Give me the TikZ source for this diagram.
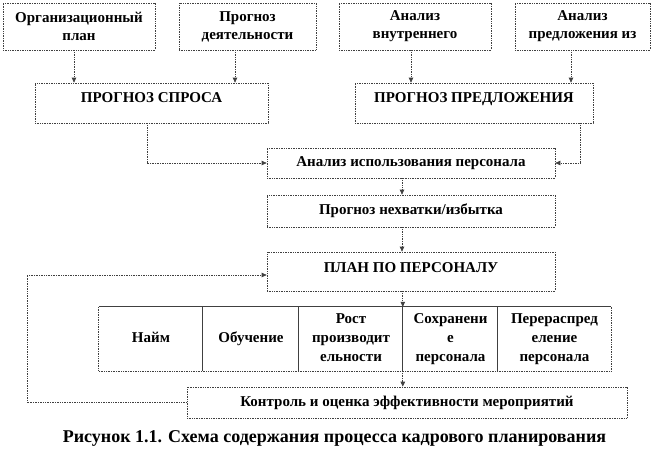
\documentclass[tikz,border=0pt]{standalone}
\usepackage{fontspec}
\setmainfont{Liberation Serif}
\usetikzlibrary{arrows.meta,calc}
\tikzset{
  dline/.style={draw=black!75, line width=0.7pt, densely dotted},
  box/.style={dline, fill=white, inner sep=0pt, align=center,
    font=\bfseries\fontsize{15}{18}\selectfont},
  cell/.style={inner sep=0pt, align=center, minimum height=64, 
    font=\bfseries\fontsize{15}{19}\selectfont},
  oneline/.style={text height=10.5pt, text depth=3.5pt},
  sline/.style={draw=black!75, line width=0.7pt},
  arr/.style={dline, -{Triangle[length=5pt,width=4.5pt]}},
}
\begin{document}
\begin{tikzpicture}[x=1pt,y=-1pt]
\useasboundingbox[fill=white] (0,0) rectangle (654,453);
% top row
\node[box, minimum width=152, minimum height=47] (b1) at (79,26.5) {Организационный\\план};
\node[box, minimum width=137, minimum height=47] (b2) at (247.5,26.5) {Прогноз\\деятельности};
\node[box, minimum width=152, minimum height=47] (b3) at (415,26.5) {Анализ\\внутреннего};
\node[box, minimum width=135, minimum height=47] (b4) at (582.5,26.5) {Анализ\\предложения из};
% forecasts
\node[box, minimum width=233, minimum height=40, text height=10.5pt, text depth=11pt] (dem) at (151.5,103) {ПРОГНОЗ СПРОСА};
\node[box, minimum width=238, minimum height=40, text height=10.5pt, text depth=11pt] (sup) at (474,103) {ПРОГНОЗ ПРЕДЛОЖЕНИЯ};
% central column
\node[box, oneline, minimum width=288, minimum height=30] (ana) at (411,163) {Анализ использования персонала};
\node[box, oneline, minimum width=288, minimum height=32] (nex) at (411,211) {Прогноз нехватки/избытка};
\node[box, minimum width=288, minimum height=39, text height=10.5pt, text depth=9pt] (plan) at (411,271.5) {ПЛАН ПО ПЕРСОНАЛУ};
% table
\node[cell, oneline, minimum width=104] (c1) at (151,339) {Найм};
\node[cell, oneline, minimum width=96] (c2) at (251,339) {Обучение};
\node[cell, minimum width=104] (c3) at (351,339) {\strut Рост\\\strut производит\\\strut ельности};
\node[cell, minimum width=95] (c4) at (450.5,339) {\strut Сохранени\\\strut е\\\strut персонала};
\node[cell, minimum width=113] (c5) at (554.5,339) {\strut Перераспред\\\strut еление\\\strut персонала};
\draw[sline] (c1.north west) -- (c5.north east);
\draw[dline] (c1.north west) -- (c1.south west) -- (c5.south east) -- (c5.north east);
\draw[sline] (c2.north west) -- (c2.south west);
\draw[sline] (c3.north west) -- (c3.south west);
\draw[sline] (c4.north west) -- (c4.south west);
\draw[sline] (c5.north west) -- (c5.south west);
% control
\node[box, oneline, minimum width=440, minimum height=31] (ctl) at (407,402.5) {Контроль и оценка эффективности мероприятий};
% caption
\node[inner sep=0pt, font=\bfseries\fontsize{18}{20}\selectfont] (cap) at (334.5,438) {Рисунок 1.1. Схема содержания процесса кадрового планирования};
% connectors
\coordinate (x1) at (74,0);
\coordinate (x2) at (235,0);
\coordinate (x3) at (411,0);
\coordinate (x4) at (571,0);
\coordinate (xd) at (147,0);
\coordinate (xs) at (580,0);
\coordinate (xc) at (402,0);
\coordinate (fb) at (27,275);
\draw[arr] (b1.south -| x1) -- (dem.north -| x1);
\draw[arr] (b2.south -| x2) -- (dem.north -| x2);
\draw[arr] (b3.south -| x3) -- (sup.north -| x3);
\draw[arr] (b4.south -| x4) -- (sup.north -| x4);
\draw[arr] (dem.south -| xd) |- (ana.west);
\draw[arr] (sup.south -| xs) |- (ana.east);
\draw[arr] (ana.south -| xc) -- (nex.north -| xc);
\draw[arr] (nex.south -| xc) -- (plan.north -| xc);
\draw[arr] (plan.south -| c4.north west) -- (c4.north west);
\draw[arr] (c4.south west) -- (ctl.north -| c4.south west);
\draw[arr] (ctl.west) -| (fb) -- (plan.west |- fb);
\end{tikzpicture}
\end{document}
